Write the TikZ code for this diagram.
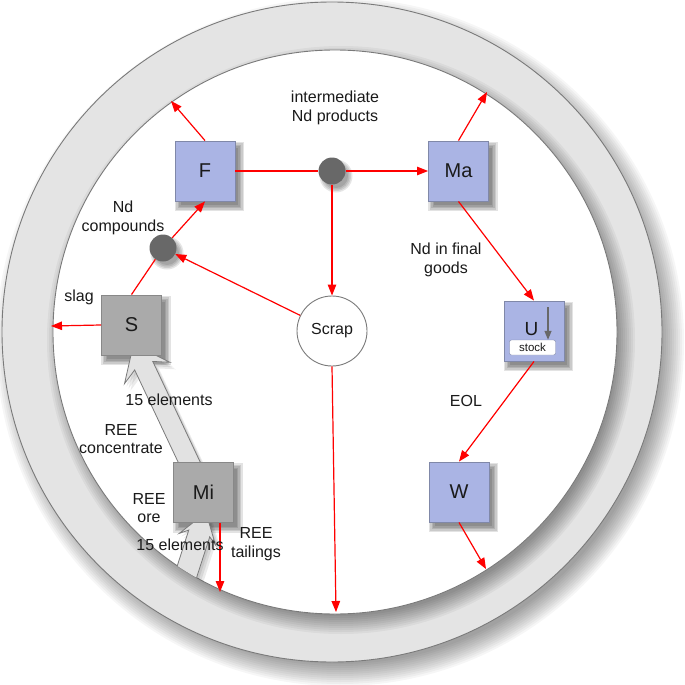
\documentclass[tikz,border=0pt]{standalone}
\usepackage{fontspec}
\setmainfont{Liberation Sans}
\usetikzlibrary{arrows.meta,calc,shadows}
\pgfdeclarelayer{back}
\pgfdeclarelayer{mid}
\pgfsetlayers{back,mid,main}
\definecolor{boxblue}{HTML}{AAB4E4}
\definecolor{boxblueedge}{HTML}{8088A8}
\definecolor{boxgrey}{HTML}{AAAAAA}
\definecolor{boxgreyedge}{HTML}{888888}
\definecolor{ringgrey}{HTML}{E4E4E4}
\definecolor{ringedge}{HTML}{7A7A7A}
\definecolor{dotgrey}{HTML}{686868}
\definecolor{fatgrey}{HTML}{E2E2E2}
\definecolor{flowred}{HTML}{FF0000}
\definecolor{txt}{HTML}{1A1A1A}
\newcommand\boxshade[1]{%
  \foreach \k in {0,1.5,3,4.5,6}
    \fill[black, opacity=0.11] ($(#1.north west)+(6-\k,7-\k)$) rectangle ($(#1.south east)+(3+\k,4+\k)$);}
\newcommand\dotshade[1]{%
  \foreach \k in {0,1,2,3}
    \fill[black, opacity=0.1] ($(#1.center)+(4,5)$) circle [radius={(12+1.5*\k)*1pt}];}
\tikzset{
 fatshadow/.style={general shadow={fill=black, opacity=0.08, shadow xshift=2pt, shadow yshift=-3pt},
   general shadow={fill=black, opacity=0.08, shadow xshift=4pt, shadow yshift=-5pt},
   general shadow={fill=black, opacity=0.08, shadow xshift=6pt, shadow yshift=-7pt}},
 bluebox/.style={draw=boxblueedge, fill=boxblue, line width=0.9pt, minimum size=60pt, inner sep=0pt, font=\fontsize{20}{24}\selectfont, text=txt},
 greybox/.style={bluebox, draw=boxgreyedge, fill=boxgrey},
 junction/.style={circle, fill=dotgrey, minimum size=27pt, inner sep=0pt},
 lbl/.style={align=center, font=\fontsize{16}{18.5}\selectfont, text=txt, inner sep=0pt},
 flow/.style={draw=flowred, line width=1.2pt, -{Triangle[length=11pt,width=8.5pt]}},
 flowline/.style={draw=flowred, line width=1.2pt},
 fatarrow/.style={draw=ringedge, fill=fatgrey, line width=0.8pt, line join=miter, fatshadow},
}
\begin{document}
\begin{tikzpicture}[x=1pt,y=-1pt]
\useasboundingbox (0,0) rectangle (685,685);
\begin{pgfonlayer}{back}
\fill[white] (0,0) rectangle (685,685);
\foreach \r in {344,342,340,338,336,334,332,330,328,326,324,322}
  \fill[black, opacity=0.035] (340,342) circle [radius=\r pt];
\draw[draw=ringedge, fill=ringgrey, line width=0.9pt] (332,332) circle [radius=330pt];
\foreach \r in {294,292,290,288,286,284,282,280,278,276}
  \fill[black, opacity=0.045] (341,340) circle [radius=\r pt];
\draw[draw=ringedge, fill=white, line width=0.9pt] (335,332) circle [radius=282pt];
\end{pgfonlayer}

% boxes
\node[bluebox] (F) at (205,171) {F};
\node[bluebox] (Ma) at (458.5,171) {Ma};
\node[bluebox] (U) at (534,331) {};
\node[bluebox] (W) at (459,492) {W};
\node[greybox] (S) at (131.5,325) {S};
\node[greybox] (Mi) at (203.5,492.5) {Mi};
\node[junction] (J1) at (332,171) {};
\node[junction] (J2) at (163,248) {};
\node[circle, draw=ringedge, fill=white, line width=0.9pt, minimum size=70pt, inner sep=0pt, font=\fontsize{16}{19}\selectfont, text=txt] (Scrap) at (332,331) {Scrap};

% U details
\node[font=\fontsize{19}{22}\selectfont, text=txt, inner sep=0pt] (Ut) at (531.5,329) {U};
\node[draw=boxblueedge, fill=white, rounded corners=2pt, minimum width=46pt, minimum height=15pt, inner sep=0pt, font=\fontsize{11.5}{13}\selectfont, text=txt] (Stock) at (532.5,347.5) {stock};
\coordinate (Uarr) at (548,307);
\draw[draw=dotgrey, line width=1.3pt, -{Triangle[length=9pt,width=7pt]}] (Uarr) -- (Stock.north -| Uarr);

% outflow end points
\coordinate (Fout) at (171,101);
\coordinate (Maout) at (487,92);
\coordinate (Sout) at (51,326);
\coordinate (Miout) at (220,592);
\coordinate (Scout) at (336,612);
\coordinate (Wout) at (486,569);

% red flows
\draw[flow] (F.north) -- (Fout);
\draw[flow] (Ma.north) -- (Maout);
\draw[flowline] (F.east) -- (J1);
\draw[flow] (J1) -- (Ma.west);
\draw[flow] (J1) -- (Scrap.north);
\draw[flowline] (S.north) -- (J2);
\draw[flow] (J2) -- (F.south);
\draw[flow] (Scrap) -- (J2);
\draw[flow] (Scrap.south) -- (Scout);
\draw[flow] (Ma.south) -- (U.north);
\draw[flow] (U.south) -- (W.north);
\draw[flow] (W.south) -- (Wout);
\draw[flow] (S.west) -- (Sout);
\draw[flow] ($(Mi.south)+(16.5,0)$) -- (Miout);

\begin{pgfonlayer}{mid}
% shadows of boxes and dots
\boxshade{F}
\boxshade{Ma}
\boxshade{U}
\boxshade{W}
\boxshade{S}
\boxshade{Mi}
\dotshade{J1}
\dotshade{J2}
% fat arrows
\coordinate (fa1tip) at ($(S.center)+(2,19)$);
\coordinate (fa1n) at ($(fa1tip)!24pt!(Mi.center)$);
\coordinate (fa1b) at ($(fa1tip)!32pt!(Mi.center)$);
\draw[fatarrow] ($(Mi.center)!10pt!90:(fa1tip)$) -- ($(fa1n)!10pt!90:(fa1tip)$) -- ($(fa1b)!25pt!90:(fa1tip)$) -- (fa1tip) -- ($(fa1b)!25pt!-90:(fa1tip)$) -- ($(fa1n)!10pt!-90:(fa1tip)$) -- ($(Mi.center)!10pt!-90:(fa1tip)$) -- cycle;
\begin{scope}
\clip (335,332) circle [radius=282pt];
\coordinate (fa2tail) at (172,618);
\coordinate (fa2tip) at ($(Mi.center)+(2.5,20)$);
\coordinate (fa2n) at ($(fa2tip)!22pt!(fa2tail)$);
\coordinate (fa2b) at ($(fa2tip)!28pt!(fa2tail)$);
\draw[fatarrow] ($(fa2tail)!11pt!90:(fa2tip)$) -- ($(fa2n)!11pt!90:(fa2tip)$) -- ($(fa2b)!19pt!90:(fa2tip)$) -- (fa2tip) -- ($(fa2b)!19pt!-90:(fa2tip)$) -- ($(fa2n)!11pt!-90:(fa2tip)$) -- ($(fa2tail)!11pt!-90:(fa2tip)$) -- cycle;
\end{scope}
\end{pgfonlayer}

% labels
\node[lbl] (Lint) at (335,108) {intermediate\\Nd products};
\node[lbl] (Lcomp) at (123,218) {Nd\\compounds};
\node[lbl] (Lslag) at (79,297) {slag};
\node[lbl] (Lfinal) at (446,260) {Nd in final\\goods};
\node[lbl] (Leol) at (466,401) {EOL};
\node[lbl] (L15a) at (169,400) {15 elements};
\node[lbl] (Lconc) at (121,439) {REE\\concentrate};
\node[lbl] (Lore) at (149,508) {REE\\ore};
\node[lbl] (L15b) at (180,545) {15 elements};
\node[lbl] (Ltail) at (256,544) {REE\\tailings};
\end{tikzpicture}
\end{document}
